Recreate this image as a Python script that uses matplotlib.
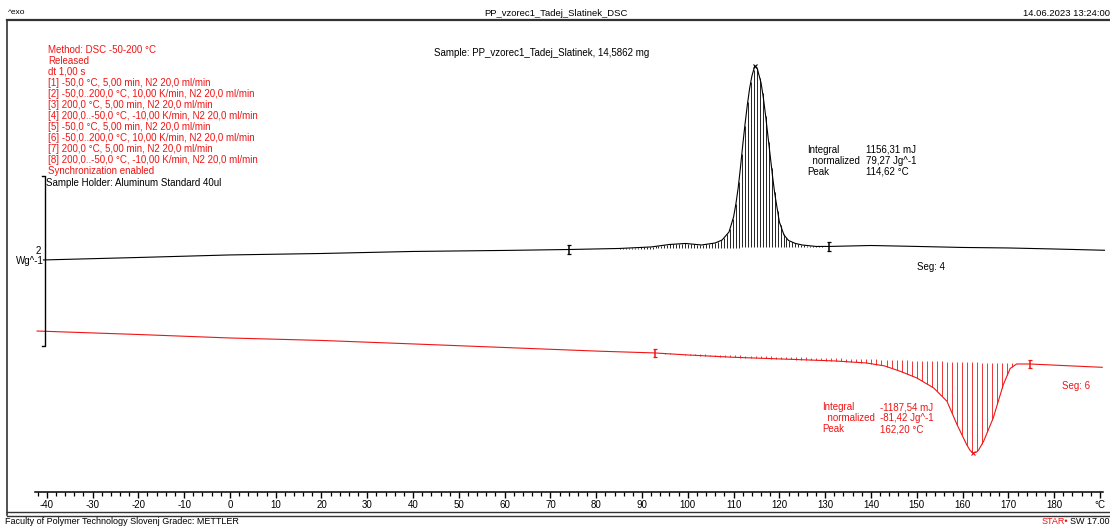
import numpy as np
import matplotlib.pyplot as plt
from matplotlib.lines import Line2D

plt.rcParams['font.family'] = ['Liberation Sans', 'DejaVu Sans']
narrow = ['Liberation Sans Narrow', 'Liberation Sans', 'DejaVu Sans']

# Seg 4 (cooling), heat flow in Wg^-1
seg4_temp = [-40.7, -20, 0, 20, 40, 60, 74.1, 85, 92, 96, 99.5, 103, 106, 107.5,
             109, 110, 110.5, 111, 111.5, 112, 112.5, 113, 113.5, 114, 114.62,
             115.2, 116, 116.5, 117, 117.5, 118, 118.5, 119, 120, 121, 122,
             123.5, 125, 128, 130.9, 140, 150, 160, 170, 180, 191]
seg4_flow = [0.012, 0.041, 0.071, 0.088, 0.112, 0.124, 0.135, 0.147, 0.165, 0.194,
             0.206, 0.188, 0.212, 0.247, 0.341, 0.518, 0.670, 0.859, 1.100, 1.365,
             1.610, 1.835, 2.030, 2.176, 2.294, 2.259, 2.094, 1.920, 1.706, 1.470,
             1.235, 1.000, 0.788, 0.459, 0.306, 0.241, 0.206, 0.188, 0.171, 0.171,
             0.182, 0.171, 0.159, 0.153, 0.141, 0.126]

# Seg 6 (heating)
seg6_temp = [-42.1, -20, 0, 20, 40, 60, 81, 92.8, 100, 110, 124.5, 132, 139, 143,
             146.4, 150, 153.7, 156.6, 158.8, 160.9, 161.6, 162.2, 163, 163.5,
             164.6, 166.7, 168.9, 170.4, 171.8, 174.7, 182.7, 190.5]
seg6_flow = [-0.824, -0.865, -0.906, -0.935, -0.976, -1.018, -1.062, -1.082, -1.106,
             -1.133, -1.161, -1.176, -1.200, -1.235, -1.298, -1.376, -1.494, -1.651,
             -1.926, -2.161, -2.225, -2.259, -2.250, -2.224, -2.121, -1.847, -1.455,
             -1.265, -1.212, -1.212, -1.232, -1.251]

seg4_limits = [74.1, 130.9]
seg4_peak = 114.62
seg6_limits = [92.8, 174.7]
seg6_peak = 162.2
scale_bar = 2  # Wg^-1

tick_values = [-40, -30, -20, -10, 0, 10, 20, 30, 40, 50, 60, 70, 80, 90, 100,
               110, 120, 130, 140, 150, 160, 170, 180, 190]
tick_labels = ['-40', '-30', '-20', '-10', '0', '10', '20', '30', '40', '50', '60',
               '70', '80', '90', '100', '110', '120', '130', '140', '150', '160',
               '170', '180', '°C']

method_lines = ['Method: DSC -50-200 °C', 'Released', 'dt 1,00 s',
                '[1] -50,0 °C, 5,00 min, N2 20,0 ml/min',
                '[2] -50,0..200,0 °C, 10,00 K/min, N2 20,0 ml/min',
                '[3] 200,0 °C, 5,00 min, N2 20,0 ml/min',
                '[4] 200,0..-50,0 °C, -10,00 K/min, N2 20,0 ml/min',
                '[5] -50,0 °C, 5,00 min, N2 20,0 ml/min',
                '[6] -50,0..200,0 °C, 10,00 K/min, N2 20,0 ml/min',
                '[7] 200,0 °C, 5,00 min, N2 20,0 ml/min',
                '[8] 200,0..-50,0 °C, -10,00 K/min, N2 20,0 ml/min',
                'Synchronization enabled']
seg4_names = ['Integral', '  normalized', 'Peak']
seg4_values = ['1156,31 mJ', '79,27 Jg^-1', '114,62 °C']
seg6_names = ['Integral', '  normalized', 'Peak']
seg6_values = ['-1187,54 mJ', '-81,42 Jg^-1', '162,20 °C']

RED = '#f01414'
W, H = 1110, 527


def fx(x):
    return x / W


def fy(y):
    return 1 - y / H


fig = plt.figure(figsize=(W / 100, H / 100), dpi=100)
ax = fig.add_axes([0, fy(492), 1, (492 - 20) / H])
ax.set_xlim(-50.2, 192.2)
ax.set_ylim(-2.718, 2.835)
for s in ['top', 'left', 'right']:
    ax.spines[s].set_visible(False)
ax.spines['bottom'].set_bounds(-42.5, 190.7)
ax.spines['bottom'].set_linewidth(1.1)
ax.set_yticks([])
ax.set_xticks(tick_values)
ax.set_xticklabels(tick_labels, fontsize=7)
ax.set_xticks(np.arange(-42, 191, 2), minor=True)
ax.tick_params(axis='x', which='major', length=4, width=1, pad=1.5)
ax.tick_params(axis='x', which='minor', length=2.6, width=0.9)


def draw_segment(temp, flow, limits, peak, color, step):
    ax.plot(temp, flow, color=color, lw=0.8)
    lo, hi = limits
    y_lo = np.interp(lo, temp, flow)
    y_hi = np.interp(hi, temp, flow)
    hx = np.arange(lo, hi, step)
    ax.vlines(hx, np.interp(hx, [lo, hi], [y_lo, y_hi]), np.interp(hx, temp, flow),
              color=color, lw=0.6)
    ax.errorbar([lo, hi], [y_lo, y_hi], yerr=0.05, fmt='none', ecolor=color,
                elinewidth=1.1, capsize=1.5, capthick=0.9)
    ax.plot(peak, np.interp(peak, temp, flow), 'x', color=color, ms=3.5, mew=0.8)


draw_segment(seg4_temp, seg4_flow, seg4_limits, seg4_peak, 'black', 0.65)
draw_segment(seg6_temp, seg6_flow, seg6_limits, seg6_peak, RED, 1.1)

# y scale bar
half = scale_bar / 2
ax.plot([-41.1, -40.4, -40.4, -41.1], [half, half, -half, -half], color='black', lw=1)
ax.text(-41.3, 0.12, str(scale_bar), fontsize=7, ha='right', va='center')
ax.text(-40.7, 0.0, 'Wg^-1', fontsize=7, ha='right', va='center')

# frame
for (x0, x1, y0, y1, lw) in [(7, W, 20, 20, 1.6), (7, 7, 20, 515, 1.2),
                             (7, W, 512, 512, 1), (7, W, 515.5, 515.5, 1)]:
    fig.add_artist(Line2D([fx(x0), fx(x1)], [fy(y0), fy(y1)], color='#333333', lw=lw))

fig.text(fx(8), fy(13), '^exo', fontsize=6, va='center')
fig.text(fx(556), fy(13), 'PP_vzorec1_Tadej_Slatinek_DSC', fontsize=6.8, ha='center',
         va='center')
fig.text(fx(1110), fy(13), '14.06.2023 13:24:00', fontsize=6.8, ha='right', va='center')
fig.text(fx(434), fy(53), 'Sample: PP_vzorec1_Tadej_Slatinek, 14,5862 mg', fontsize=7,
         va='center', family=narrow)

for i, line in enumerate(method_lines):
    fig.text(fx(48), fy(50 + 11 * i), line, fontsize=7, color=RED, va='center',
             family=narrow)
fig.text(fx(46), fy(183), 'Sample Holder: Aluminum Standard 40ul', fontsize=7,
         va='center', family=narrow)

for i in range(3):
    fig.text(fx(807), fy(150 + 11 * i), seg4_names[i], fontsize=7, va='center',
             family=narrow)
    fig.text(fx(866), fy(150 + 11 * i), seg4_values[i], fontsize=7, va='center',
             family=narrow)
    fig.text(fx(822), fy(407 + 11 * i), seg6_names[i], fontsize=7, va='center',
             color=RED, family=narrow)
    fig.text(fx(880), fy(407 + 11 * i), seg6_values[i], fontsize=7, va='center',
             color=RED, family=narrow)

fig.text(fx(917), fy(267), 'Seg: 4', fontsize=7, va='center', family=narrow)
fig.text(fx(1062), fy(386), 'Seg: 6', fontsize=7, va='center', color=RED, family=narrow)

fig.text(fx(5), fy(522), 'Faculty of Polymer Technology Slovenj Gradec: METTLER',
         fontsize=6.5, va='center')
fig.text(fx(1110), fy(522), 'SW 17.00', fontsize=6.5, ha='right', va='center')
fig.text(fx(1068), fy(522), 'STAR•', fontsize=6.5, ha='right', va='center', color=RED)

plt.savefig('out.png', dpi=100)
